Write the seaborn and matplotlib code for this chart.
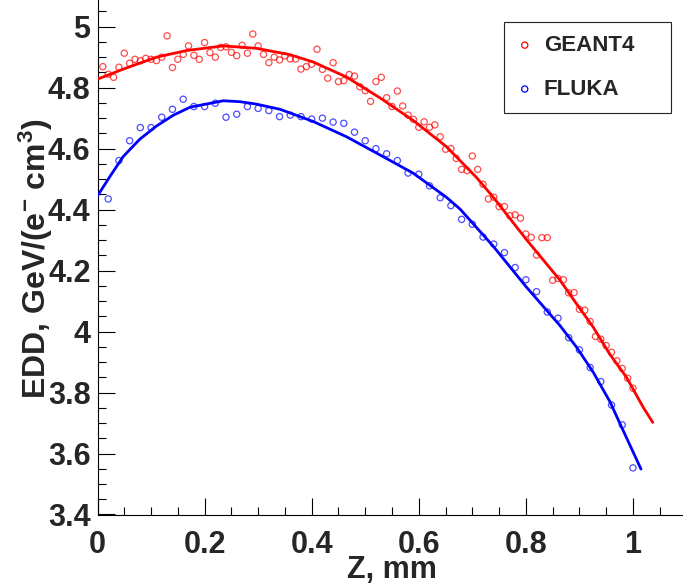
import matplotlib
matplotlib.use("Agg")
import matplotlib.pyplot as plt
from matplotlib.ticker import MultipleLocator, FuncFormatter
import pandas as pd
import seaborn as sns

# ---------------- data ----------------
geant4_z = [0.01, 0.02, 0.03, 0.04, 0.05, 0.06, 0.07, 0.08, 0.09, 0.10,
            0.11, 0.12, 0.13, 0.14, 0.15, 0.16, 0.17, 0.18, 0.19, 0.20,
            0.21, 0.22, 0.23, 0.24, 0.25, 0.26, 0.27, 0.28, 0.29, 0.30,
            0.31, 0.32, 0.33, 0.34, 0.35, 0.36, 0.37, 0.38, 0.39, 0.40,
            0.41, 0.42, 0.43, 0.44, 0.45, 0.46, 0.47, 0.48, 0.49, 0.50,
            0.51, 0.52, 0.53, 0.54, 0.55, 0.56, 0.57, 0.58, 0.59, 0.60,
            0.61, 0.62, 0.63, 0.64, 0.65, 0.66, 0.67, 0.68, 0.69, 0.70,
            0.71, 0.72, 0.73, 0.74, 0.75, 0.76, 0.77, 0.78, 0.79, 0.80,
            0.81, 0.82, 0.83, 0.84, 0.85, 0.86, 0.87, 0.88, 0.89, 0.90,
            0.91, 0.92, 0.93, 0.94, 0.95, 0.96, 0.97, 0.98, 0.99, 1.00]
geant4_edd = [4.869, 4.844, 4.834, 4.867, 4.913, 4.880, 4.893, 4.888, 4.896, 4.893,
              4.889, 4.900, 4.970, 4.866, 4.893, 4.909, 4.937, 4.906, 4.893, 4.948,
              4.915, 4.900, 4.932, 4.934, 4.916, 4.905, 4.939, 4.913, 4.976, 4.937,
              4.909, 4.882, 4.900, 4.891, 4.904, 4.894, 4.894, 4.861, 4.869, 4.877,
              4.926, 4.860, 4.831, 4.882, 4.820, 4.823, 4.843, 4.838, 4.803, 4.790,
              4.755, 4.820, 4.834, 4.767, 4.738, 4.789, 4.740, 4.710, 4.696, 4.670,
              4.688, 4.670, 4.678, 4.639, 4.598, 4.600, 4.568, 4.532, 4.528, 4.576,
              4.532, 4.483, 4.435, 4.441, 4.410, 4.410, 4.380, 4.383, 4.372, 4.320,
              4.309, 4.251, 4.308, 4.308, 4.168, 4.174, 4.170, 4.127, 4.128, 4.073,
              4.070, 4.033, 3.984, 3.975, 3.954, 3.932, 3.904, 3.879, 3.847, 3.814]

fluka_z = [0.02, 0.04, 0.06, 0.08, 0.10, 0.12, 0.14, 0.16, 0.18, 0.20,
           0.22, 0.24, 0.26, 0.28, 0.30, 0.32, 0.34, 0.36, 0.38, 0.40,
           0.42, 0.44, 0.46, 0.48, 0.50, 0.52, 0.54, 0.56, 0.58, 0.60,
           0.62, 0.64, 0.66, 0.68, 0.70, 0.72, 0.74, 0.76, 0.78, 0.80,
           0.82, 0.84, 0.86, 0.88, 0.90, 0.92, 0.94, 0.96, 0.98, 1.00]
fluka_edd = [4.435, 4.561, 4.626, 4.669, 4.669, 4.703, 4.729, 4.762, 4.738, 4.738,
             4.749, 4.703, 4.713, 4.738, 4.732, 4.725, 4.705, 4.710, 4.705, 4.697,
             4.700, 4.687, 4.683, 4.654, 4.626, 4.600, 4.583, 4.561, 4.520, 4.516,
             4.478, 4.439, 4.413, 4.368, 4.352, 4.310, 4.287, 4.259, 4.210, 4.170,
             4.131, 4.064, 4.044, 3.980, 3.940, 3.882, 3.836, 3.759, 3.694, 3.553]

# fitted curves as drawn in the reference
geant4_fit_z = [0.0, 0.05, 0.11, 0.167, 0.235, 0.297, 0.36, 0.403, 0.465, 0.528,
                0.59, 0.652, 0.708, 0.739, 0.80, 0.864, 0.895, 0.926, 0.957, 0.988,
                1.019, 1.037]
geant4_fit_edd = [4.828, 4.862, 4.900, 4.922, 4.937, 4.929, 4.908, 4.884, 4.835, 4.766,
                  4.692, 4.606, 4.505, 4.441, 4.304, 4.168, 4.090, 4.014, 3.925, 3.850,
                  3.752, 3.702]
fluka_fit_z = [0.0, 0.023, 0.048, 0.079, 0.11, 0.142, 0.173, 0.235, 0.266, 0.297,
               0.341, 0.403, 0.465, 0.528, 0.59, 0.652, 0.677, 0.739, 0.80, 0.864,
               0.895, 0.926, 0.957, 0.98, 1.015]
fluka_fit_edd = [4.445, 4.508, 4.574, 4.631, 4.674, 4.710, 4.736, 4.757, 4.754, 4.746,
                 4.729, 4.689, 4.639, 4.579, 4.519, 4.440, 4.402, 4.280, 4.148, 4.019,
                 3.948, 3.866, 3.770, 3.682, 3.549]

series_labels = ["GEANT4", "FLUKA"]
x_label = "Z, mm"
y_label = r"EDD, GeV/(e$^{-}$ cm$^{3}$)"

# ---------------- styling ----------------
sns.set_theme(style="ticks")
plt.rcParams['font.family'] = ['Liberation Sans', 'DejaVu Sans']
plt.rcParams['font.weight'] = 'bold'
plt.rcParams['mathtext.fontset'] = 'custom'
plt.rcParams['mathtext.bf'] = 'Liberation Sans:bold'
plt.rcParams['mathtext.rm'] = 'Liberation Sans:bold'
plt.rcParams['mathtext.default'] = 'bf'

W, H = 683, 585
fig = plt.figure(figsize=(W / 100, H / 100), dpi=100)
fig.patch.set_facecolor('white')
ax = fig.add_axes([97.5 / W, 70.5 / H, 589 / W, 518.3 / H])
ax.set_facecolor('white')

df_g = pd.DataFrame({'z': geant4_z, 'edd': geant4_edd})
df_f = pd.DataFrame({'z': fluka_z, 'edd': fluka_edd})

RED = '#ff0000'
BLUE = '#0000ff'

sns.scatterplot(data=df_g, x='z', y='edd', ax=ax, marker='o', s=20,
                color=RED, facecolor='none', edgecolor=RED, linewidth=0.9,
                alpha=0.7, label=series_labels[0], zorder=2)
sns.scatterplot(data=df_f, x='z', y='edd', ax=ax, marker='o', s=20,
                color=BLUE, facecolor='none', edgecolor=BLUE, linewidth=0.9,
                alpha=0.7, label=series_labels[1], zorder=2)

sns.lineplot(x=geant4_fit_z, y=geant4_fit_edd, ax=ax, color=RED, lw=2.0,
             sort=False, estimator=None, legend=False, zorder=3)
sns.lineplot(x=fluka_fit_z, y=fluka_fit_edd, ax=ax, color=BLUE, lw=2.0,
             sort=False, estimator=None, legend=False, zorder=3)

ax.set_xlim(0, 1.1)
ax.set_ylim(3.4, 5.1)

ax.xaxis.set_major_locator(MultipleLocator(0.2))
ax.xaxis.set_minor_locator(MultipleLocator(0.05))
ax.yaxis.set_major_locator(MultipleLocator(0.2))
ax.yaxis.set_minor_locator(MultipleLocator(0.05))
fmt = FuncFormatter(lambda v, p: f"{round(v, 4):g}")
ax.xaxis.set_major_formatter(fmt)
ax.yaxis.set_major_formatter(fmt)

ax.tick_params(which='both', direction='in', color='black', width=0.8,
               top=False, right=False)
ax.tick_params(which='major', length=12)
ax.tick_params(which='minor', length=6)
ax.tick_params(axis='x', which='major', labelsize=22, pad=11)
ax.tick_params(axis='y', which='major', labelsize=22, pad=5)
for lab in ax.get_xticklabels() + ax.get_yticklabels():
    lab.set_fontweight('bold')

for sp in ax.spines.values():
    sp.set_color('black')
    sp.set_linewidth(0.8)

ax.set_xlabel(x_label, fontsize=22, fontweight='bold')
ax.set_ylabel(y_label, fontsize=23, fontweight='bold')
ax.xaxis.set_label_coords(0.5, -0.078)
ax.yaxis.label.set_va('center')
ax.yaxis.set_label_coords(-0.104, 0.493)

leg = ax.legend(loc='upper left',
                bbox_to_anchor=(504.3 / W, 1 - 110 / H, 166.4 / W, 87.7 / H),
                bbox_transform=fig.transFigure, mode='expand',
                frameon=True, fancybox=False, shadow=False,
                borderaxespad=0, borderpad=0.57, labelspacing=1.03,
                handlelength=0.7, handletextpad=0.5,
                prop={'size': 16, 'weight': 'bold'})
leg.get_frame().set_edgecolor('#222222')
leg.get_frame().set_linewidth(0.8)
leg.get_frame().set_alpha(1)
for h in leg.legend_handles:
    h.set_alpha(1)

fig.savefig('out.png', dpi=100)
